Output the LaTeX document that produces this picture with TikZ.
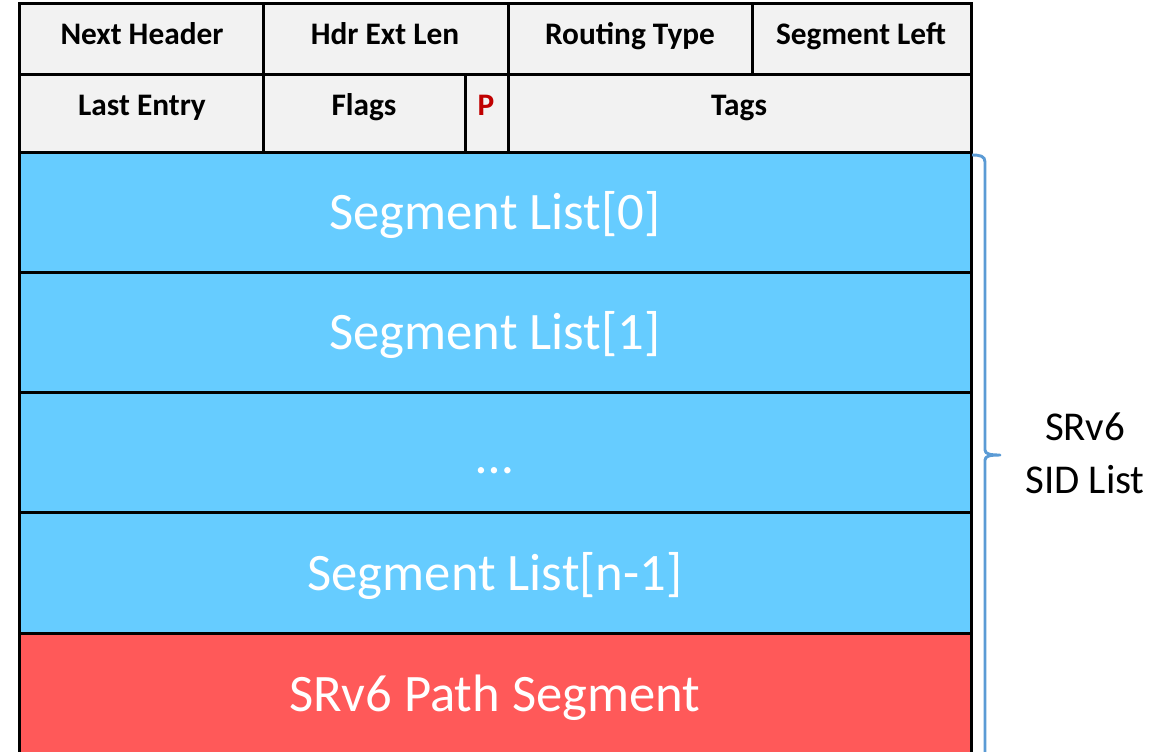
\documentclass[tikz,border=0pt]{standalone}
\usepackage{fontspec}
\setmainfont{Carlito}
\usetikzlibrary{fit}
\definecolor{hdrgray}{HTML}{F2F2F2}
\definecolor{segblue}{HTML}{66CCFF}
\definecolor{pathred}{HTML}{FF5959}
\definecolor{flagred}{HTML}{C00000}
\definecolor{bracecol}{HTML}{5B9BD5}
\tikzset{
  cell/.style={draw=black, line width=2.25pt, inner sep=0pt},
  hdr/.style={font=\fontsize{23.5}{28}\selectfont\bfseries, text=black, inner sep=0pt, anchor=base},
  seg/.style={font=\fontsize{39.5}{47}\selectfont, text=white, inner sep=0pt, anchor=base},
  side/.style={font=\fontsize{30.7}{37.5}\selectfont, text=black, inner sep=0pt, anchor=base},
  brace/.style={draw=bracecol, line width=2.2pt, line join=round}
}
\begin{document}
\begin{tikzpicture}[x=0.75pt,y=-0.75pt]
\useasboundingbox (0,0) rectangle (1152,751);
% header row 1
\node[cell, fill=hdrgray, fit={(19,3) (263,74)}] (c11) {};
\node[cell, fill=hdrgray, fit={(263,3) (508,74)}] (c12) {};
\node[cell, fill=hdrgray, fit={(508,3) (752,74)}] (c13) {};
\node[cell, fill=hdrgray, fit={(752,3) (971,74)}] (c14) {};
% header row 2
\node[cell, fill=hdrgray, fit={(19,74) (263,152)}] (c21) {};
\node[cell, fill=hdrgray, fit={(263,74) (465,152)}] (c22) {};
\node[cell, fill=hdrgray, fit={(465,74) (508,152)}] (c23) {};
\node[cell, fill=hdrgray, fit={(508,74) (971,152)}] (c24) {};
% segment list rows
\node[cell, fill=segblue, fit={(19,152) (971,272)}] (s0) {};
\node[cell, fill=segblue, fit={(19,272) (971,392)}] (s1) {};
\node[cell, fill=segblue, fit={(19,392) (971,512)}] (sd) {};
\node[cell, fill=segblue, fit={(19,512) (971,633)}] (sn) {};
\node[cell, fill=pathred, fit={(19,633) (971,753)}] (ps) {};
% header texts
\node[hdr] (tnh) at (142,44) {Next Header};
\node[hdr] (thel) at (385,44) {Hdr Ext Len};
\node[hdr] (trt) at (630,44) {Routing Type};
\node[hdr] (tsl) at (861,44) {Segment Left};
\node[hdr] (tle) at (142,115) {Last Entry};
\node[hdr] (tfl) at (364,115) {Flags};
\node[hdr, text=flagred] (tp) at (486,115) {P};
\node[hdr] (ttg) at (739,115) {Tags};
% segment texts
\node[seg] (ts0) at (495,229) {Segment List[0]};
\node[seg] (ts1) at (495,349) {Segment List[1]};
\node[seg] (tsd) at (495,473) {…};
\node[seg] (tsn) at (495,590) {Segment List[n-1]};
\node[seg] (tps) at (495,711) {SRv6 Path Segment};
% brace around the SID list
\coordinate (btop) at (972,155);
\coordinate (btip) at (1000,455);
\coordinate (bbot) at (985,760);
\draw[brace] (btop) .. controls (980,155) and (985,156) .. (985,162)
  -- (985,450) .. controls (985,454) and (990,455) .. (btip)
  .. controls (990,455) and (985,456) .. (985,460) -- (bbot);
\node[side] (lbl1) at (1085,440) {SRv6};
\node[side] (lbl2) at (1085,493) {SID List};
\end{tikzpicture}
\end{document}
